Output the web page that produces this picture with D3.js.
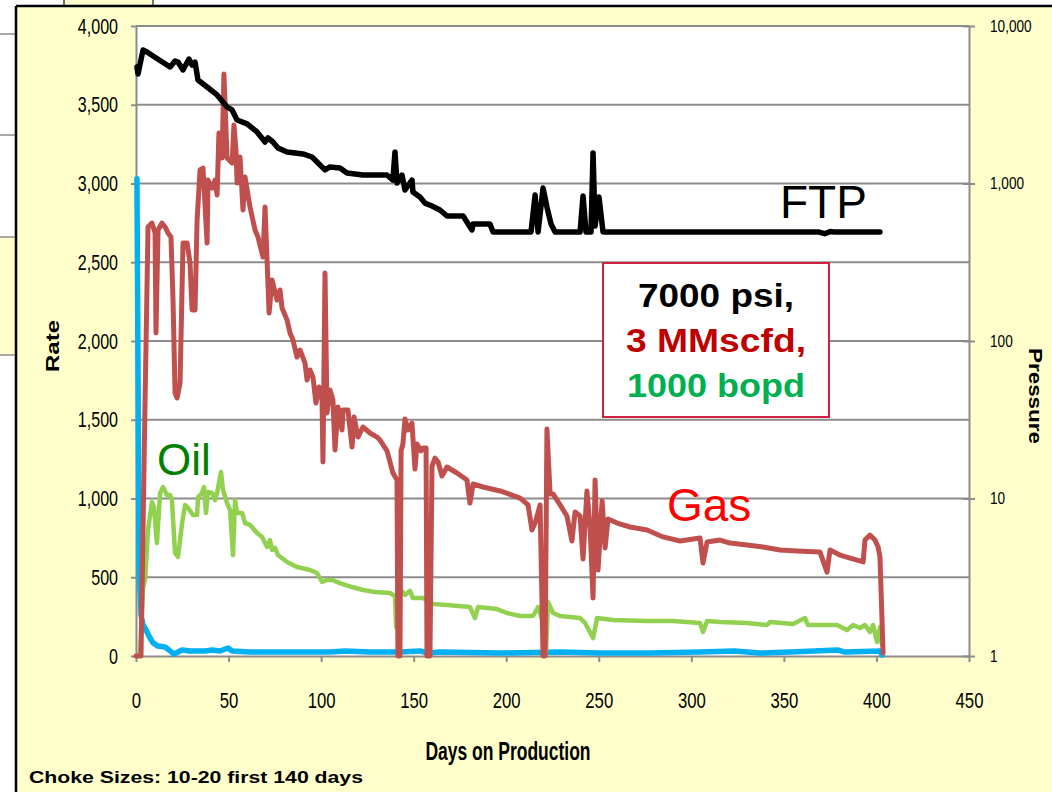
<!DOCTYPE html>
<html>
<head>
<meta charset="utf-8">
<script src="https://cdn.jsdelivr.net/npm/d3@7/dist/d3.min.js"></script>
<style>
  html, body { margin: 0; padding: 0; background: #ffffff; }
  svg { display: block; }
  .narrow { font-family: "Liberation Sans Narrow", "Liberation Sans", Arial, sans-serif; }
  .sans { font-family: "Liberation Sans", Arial, sans-serif; }
</style>
</head>
<body>
<svg id="chart" width="1052" height="792"></svg>
<script>
// ---- data: [days on production, value] ----
const rateTicks = [0, 500, 1000, 1500, 2000, 2500, 3000, 3500, 4000];
const dayTicks = [0, 50, 100, 150, 200, 250, 300, 350, 400, 450];
const pressureTicks = [1, 10, 100, 1000, 10000];

// Gas rate (Mscfd)
const gasRate = [
  [0,0],[2.2,0],[2.7,0],[4.9,1625],[6.5,2724],[8.6,2749],[10.3,2686],[10.8,2051],[11.9,2705],
  [14.0,2749],[15.7,2724],[17.3,2686],[18.9,2660],[20.0,2260],[21.1,1670],[22.2,1638],[23.8,1733],
  [25.4,2622],[27.6,2622],[29.2,2495],[30.3,2197],[31.9,2197],[33.0,2768],[34.6,3086],[36.2,3098],
  [38.4,2622],[38.9,3022],[41.1,2971],[42.7,3022],[43.8,2927],[44.8,3320],[46.5,3162],[47.5,3695],
  [49.2,3162],[51.9,3130],[52.9,3371],[54.0,3213],[54.6,3003],[56.2,3168],[57.8,2832],[58.9,3041],
  [61.6,2851],[64.3,2705],[65.9,2660],[68.6,2533],[69.7,2851],[70.8,2514],[71.9,2178],[73.5,2387],
  [76.2,2260],[77.8,2324],[78.9,2209],[81.6,2133],[83.2,2051],[84.8,2006],[87.0,1898],[88.6,1943],
  [91.3,1860],[92.4,1752],[94.0,1816],[95.6,1771],[97.2,1606],[98.9,1708],[100.5,1625],[101.0,1232],
  [102.1,2432],[103.2,1543],[104.8,1689],[106.4,1625],[107.5,1308],[109.1,1581],[111.3,1435],
  [111.8,1562],[114.5,1562],[116.7,1327],[117.8,1517],[119.9,1390],[122.6,1454],[126.4,1416],
  [130.2,1390],[131.8,1371],[135.6,1302],[138.8,1162],[141.0,1117],[141.5,0],[142.6,0],[143.2,1302],
  [144.2,1346],[145.3,1505],[146.9,1435],[149.1,1479],[150.7,1187],[151.8,1346],[154.0,1302],
  [155.1,1321],[156.7,1321],[157.2,0],[158.8,0],[159.9,1206],[161.5,1257],[163.2,1232],[165.3,1143],
  [168.0,1200],[173.4,1162],[178.8,1117],[180.4,971],[182.1,1092],[187.5,1073],[196.7,1048],
  [207.5,1003],[211.8,959],[213.9,800],[215.6,844],[218.3,959],[219.9,0],[221.0,0],[222.0,1441],
  [223.7,1029],[225.3,1029],[229.1,959],[232.8,889],[235.5,730],[237.2,914],[239.9,889],[241.5,616],
  [243.6,1048],[245.3,819],[246.9,368],[248.0,1117],[249.6,546],[251.8,984],[253.4,686],[255.0,870],
  [259.9,844],[266.9,819],[276.1,800],[284.7,756],[293.9,730],[304.7,749],[306.3,590],[308.5,724],
  [315.5,736],[320.9,717],[330.1,705],[338.7,692],[347.9,673],[357.1,667],[369.5,660],[373.3,533],
  [374.9,673],[380.3,641],[392.8,597],[393.8,736],[396.5,768],[399.2,736],[400.9,692],[401.9,629],
  [403.6,19]
];

// Oil rate (bopd)
const oilRate = [
  [2.2,0],[3.8,438],[4.9,483],[6.5,800],[8.6,978],[9.7,946],[11.3,717],[13.0,1035],[14.6,1073],
  [16.7,1022],[18.4,1022],[19.4,990],[21.1,654],[22.7,629],[24.9,844],[26.5,959],[28.1,940],
  [30.8,895],[33.0,895],[33.5,1009],[35.7,1035],[36.7,1073],[37.8,908],[38.9,1041],[41.1,1035],
  [42.7,990],[43.8,1035],[45.9,1168],[47.0,1054],[49.2,971],[50.8,927],[52.4,641],[53.5,990],
  [54.6,908],[57.3,908],[58.9,844],[61.6,832],[65.4,781],[68.1,756],[70.8,692],[72.4,736],
  [73.5,673],[75.1,686],[76.7,641],[81.6,597],[87.0,565],[94.0,546],[97.8,527],[100.5,470],
  [103.2,483],[105.9,483],[110.2,463],[116.7,438],[122.6,419],[129.1,406],[137.2,400],[139.9,381],
  [140.5,184],[141.0,368],[143.7,413],[145.3,387],[148.0,413],[149.6,368],[155.1,368],[160.5,330],
  [168.0,324],[180.4,311],[183.1,241],[184.8,311],[195.0,298],[200.4,273],[207.5,254],[214.5,254],
  [217.2,311],[219.9,210],[221.5,25],[222.6,343],[225.3,273],[229.1,254],[239.9,241],[242.6,210],
  [246.9,114],[249.1,241],[257.7,229],[276.1,222],[290.1,222],[304.7,210],[306.3,152],[308.5,222],
  [315.5,216],[330.1,210],[340.9,197],[342.5,216],[354.9,203],[361.4,241],[363.0,197],[378.7,197],
  [384.1,165],[387.4,197],[391.1,178],[393.8,197],[396.5,152],[398.2,197],[400.3,89],[401.9,184],
  [403.0,70]
];

// Water rate (bwpd)
const waterRate = [
  [0.5,3030],[1.1,1800],[1.6,610],[2.7,260],[3.8,197],[5.4,165],[7.0,127],[9.2,83],[11.9,63],
  [15.7,57],[18.4,32],[20.5,13],[22.7,25],[24.9,38],[29.2,32],[37.3,32],[41.1,38],[45.4,32],
  [49.7,51],[51.9,32],[61.6,25],[88.6,25],[104.8,25],[112.9,32],[126.4,25],[142.6,25],[153.4,32],
  [157.7,19],[164.2,25],[196.6,19],[229.1,25],[250.7,19],[277.7,19],[304.7,25],[323.1,32],
  [337.1,19],[353.3,25],[379.3,38],[383.0,25],[401.9,32],[403.0,6]
];

// Flowing tubing pressure (psi)
const ftpPressure = [
  [0.5,5495],[1.1,4955],[3.8,7040],[5.9,6840],[18.4,5495],[21.1,5995],[22.7,5900],[25.4,5260],
  [28.6,6170],[30.3,5650],[31.9,5900],[33.5,4540],[38.4,4100],[43.8,3650],[49.2,3060],[51.9,2930],
  [54.6,2530],[60.0,2390],[65.4,2125],[69.7,1835],[71.3,1945],[74.0,1835],[76.7,1680],[81.6,1585],
  [90.2,1540],[95.1,1473],[97.8,1370],[102.1,1220],[104.8,1273],[110.2,1255],[114.0,1166],
  [122.6,1132],[135.6,1132],[138.8,1052],[139.9,1585],[141.0,1007],[143.7,1132],[145.3,909],
  [149.1,1052],[149.6,884],[153.4,821],[156.1,751],[159.9,720],[164.2,679],[168.0,622],[176.7,622],
  [181.5,507],[182.1,554],[191.2,554],[192.9,492],[213.4,492],[215.6,845],[217.2,492],[219.9,936],
  [222.0,709],[224.2,554],[226.4,492],[239.9,492],[241.5,834],[243.1,492],[245.8,492],[246.9,1563],
  [248.0,537],[250.1,821],[252.3,492],[369.0,492],[372.0,480],[375.0,495],[377.0,492],[401.9,492]
];

// ---- layout ----
const svg = d3.select("#chart");
const W = 1052, H = 792;
const plot = { left: 136, right: 969, top: 26, bottom: 656 };

const x = d3.scaleLinear().domain([0, 450]).range([plot.left, plot.right]);
const y = d3.scaleLinear().domain([0, 4000]).range([plot.bottom, plot.top]);
const yP = d3.scaleLog().domain([1, 10000]).range([plot.bottom, plot.top]);

const gridGray = "#8c8c8c";

// slide background and frame
svg.append("rect").attr("width", W).attr("height", H).attr("fill", "#ffffff");
svg.append("rect").attr("x", 0).attr("y", 237).attr("width", 16).attr("height", 118).attr("fill", "#ffffcc");
[34, 135, 237, 355].forEach(v => {
  svg.append("line").attr("x1", 0).attr("x2", 16).attr("y1", v).attr("y2", v)
    .attr("stroke", gridGray).attr("stroke-width", 1.5);
});
svg.append("rect").attr("x", 64).attr("y", -3).attr("width", 89).attr("height", 10)
  .attr("fill", "#ffffcc").attr("stroke", "#444").attr("stroke-width", 1.5);
svg.append("rect").attr("x", 16).attr("y", 6).attr("width", W - 16).attr("height", H - 6).attr("fill", "#ffffcc");
svg.append("line").attr("x1", 16).attr("x2", W).attr("y1", 6).attr("y2", 6).attr("stroke", "#000").attr("stroke-width", 2.5);
svg.append("line").attr("x1", 16).attr("x2", 16).attr("y1", 6).attr("y2", H).attr("stroke", "#000").attr("stroke-width", 2.5);

// plot area
svg.append("rect").attr("x", plot.left).attr("y", plot.top)
  .attr("width", plot.right - plot.left).attr("height", plot.bottom - plot.top).attr("fill", "#ffffff");

// horizontal gridlines
svg.append("g").selectAll("line").data(rateTicks.filter(d => d > 0)).join("line")
  .attr("x1", plot.left).attr("x2", plot.right)
  .attr("y1", d => y(d)).attr("y2", d => y(d))
  .attr("stroke", gridGray).attr("stroke-width", 2);

// left axis
const leftAxis = svg.append("g").attr("transform", `translate(${plot.left},0)`)
  .call(d3.axisLeft(y).tickValues(rateTicks).tickFormat(d3.format(",")).tickSize(5).tickSizeOuter(0).tickPadding(13));
// bottom axis
const bottomAxis = svg.append("g").attr("transform", `translate(0,${plot.bottom})`)
  .call(d3.axisBottom(x).tickValues(dayTicks).tickSize(6).tickSizeOuter(0).tickPadding(30));
// right axis (log pressure)
const rightAxis = svg.append("g").attr("transform", `translate(${plot.right},0)`)
  .call(d3.axisRight(yP).tickValues(pressureTicks).tickFormat(d3.format(",")).tickSize(6).tickSizeOuter(0).tickPadding(15));
rightAxis.selectAll(".tick line").attr("x1", -6);

[leftAxis, bottomAxis, rightAxis].forEach(g => {
  g.select(".domain").attr("stroke", gridGray).attr("stroke-width", 2);
  g.selectAll(".tick line").attr("stroke", gridGray).attr("stroke-width", 2);
  g.selectAll(".tick text").attr("class", "narrow").attr("fill", "#000");
});
leftAxis.selectAll(".tick text").attr("font-size", 22);
bottomAxis.selectAll(".tick text").attr("font-size", 22);
rightAxis.selectAll(".tick text").attr("font-size", 17);

// condensed look for the tick numerals
function condense(sel, k) {
  sel.each(function () {
    const w = this.getComputedTextLength();
    d3.select(this).attr("textLength", w * k).attr("lengthAdjust", "spacingAndGlyphs");
  });
}
condense(leftAxis.selectAll(".tick text"), 0.73);
condense(bottomAxis.selectAll(".tick text"), 0.76);
condense(rightAxis.selectAll(".tick text"), 0.8);

// series lines
const rateLine = d3.line().x(d => x(d[0])).y(d => y(d[1]));
const pressLine = d3.line().x(d => x(d[0])).y(d => yP(d[1]));

const series = [
  { data: waterRate, line: rateLine, color: "#00b0f0", width: 5.5 },
  { data: oilRate, line: rateLine, color: "#92d050", width: 4.5 },
  { data: gasRate, line: rateLine, color: "#c0504d", width: 5 },
  { data: ftpPressure, line: pressLine, color: "#000000", width: 5.5 }
];
svg.append("g").selectAll("path").data(series).join("path")
  .attr("d", s => s.line(s.data))
  .attr("fill", "none")
  .attr("stroke", s => s.color)
  .attr("stroke-width", s => s.width)
  .attr("stroke-linejoin", "round")
  .attr("stroke-linecap", "round");

// series labels
svg.append("text").attr("class", "sans").attr("x", 780).attr("y", 218)
  .attr("font-size", 46).attr("fill", "#000").text("FTP");
svg.append("text").attr("class", "sans").attr("x", 157).attr("y", 475)
  .attr("font-size", 44).attr("fill", "#008000").text("Oil");
svg.append("text").attr("class", "sans").attr("x", 667).attr("y", 521)
  .attr("font-size", 46).attr("fill", "#ff0000").text("Gas");

// callout box
svg.append("rect").attr("x", 603).attr("y", 263).attr("width", 226).attr("height", 154)
  .attr("fill", "#ffffff").attr("stroke", "#d0213e").attr("stroke-width", 2);
const boxLines = [
  { t: "7000 psi,", c: "#000000", yb: 307, w: 156 },
  { t: "3 MMscfd,", c: "#c00000", yb: 352, w: 180 },
  { t: "1000 bopd", c: "#00b050", yb: 397, w: 178 }
];
svg.append("g").selectAll("text").data(boxLines).join("text")
  .attr("class", "sans").attr("x", 716).attr("y", d => d.yb)
  .attr("text-anchor", "middle").attr("font-size", 34).attr("font-weight", "bold")
  .attr("fill", d => d.c)
  .attr("textLength", d => d.w).attr("lengthAdjust", "spacingAndGlyphs")
  .text(d => d.t);

// axis titles
svg.append("text").attr("class", "sans")
  .attr("transform", "translate(59,346) rotate(-90)")
  .attr("text-anchor", "middle").attr("font-size", 18).attr("font-weight", "bold")
  .attr("textLength", 52).attr("lengthAdjust", "spacingAndGlyphs")
  .text("Rate");
svg.append("text").attr("class", "sans")
  .attr("transform", "translate(1029,396) rotate(90)")
  .attr("text-anchor", "middle").attr("font-size", 19).attr("font-weight", "bold")
  .attr("textLength", 96).attr("lengthAdjust", "spacingAndGlyphs")
  .text("Pressure");
svg.append("text").attr("class", "narrow")
  .attr("x", 508).attr("y", 760)
  .attr("text-anchor", "middle").attr("font-size", 25).attr("font-weight", "bold")
  .attr("textLength", 165).attr("lengthAdjust", "spacingAndGlyphs")
  .text("Days on Production");
svg.append("text").attr("class", "sans")
  .attr("x", 29).attr("y", 783)
  .attr("font-size", 17).attr("font-weight", "bold")
  .attr("textLength", 334).attr("lengthAdjust", "spacingAndGlyphs")
  .text("Choke Sizes: 10-20 first 140 days");
</script>
</body>
</html>
